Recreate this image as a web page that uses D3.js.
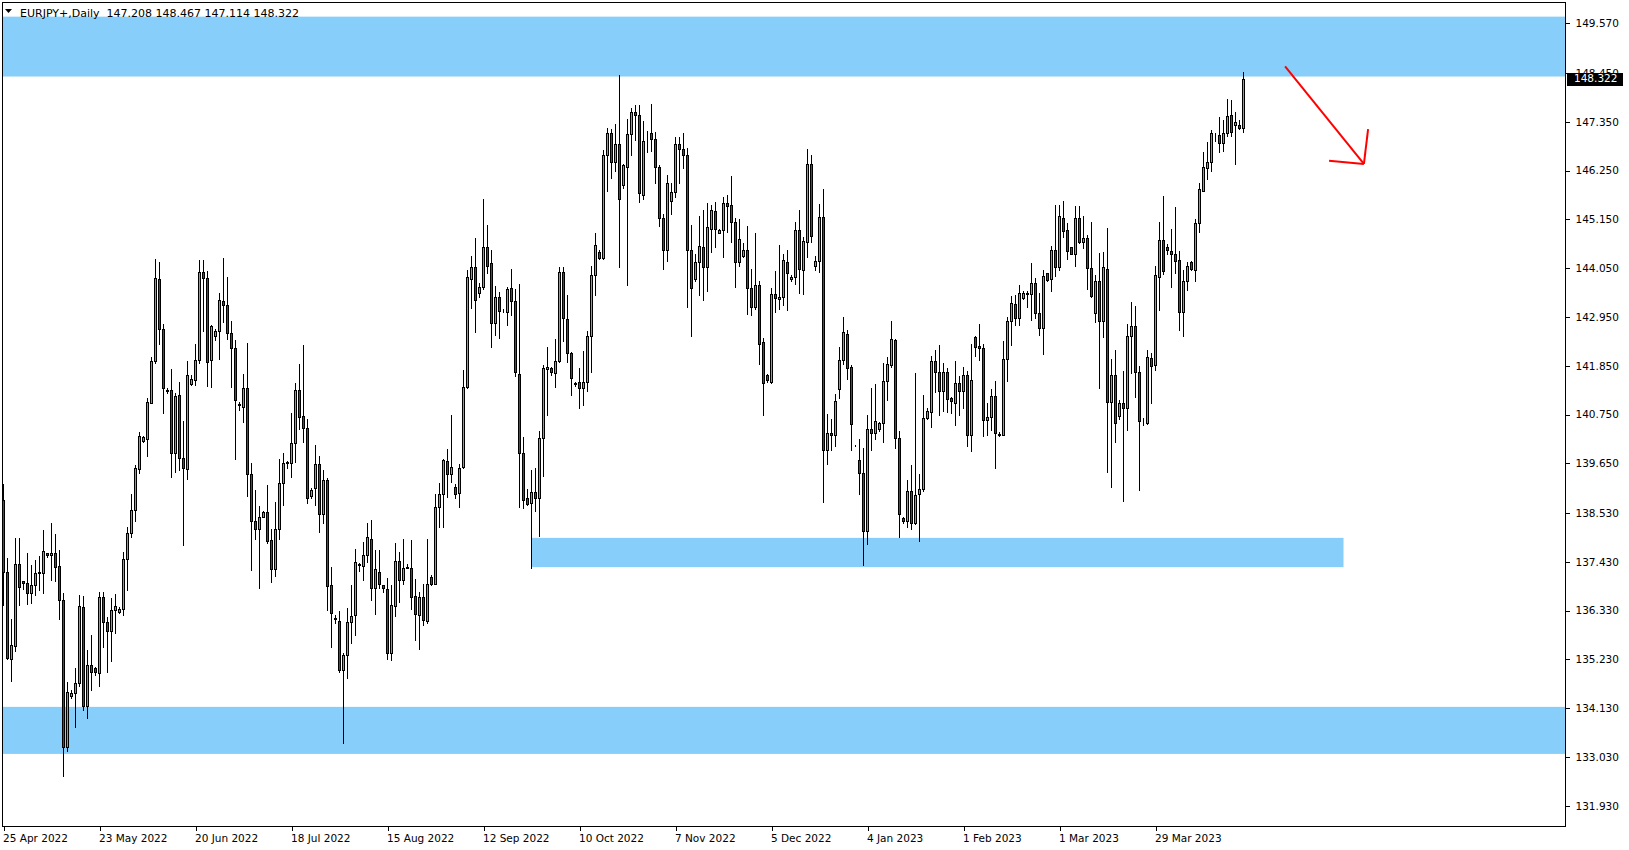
<!DOCTYPE html>
<html><head><meta charset="utf-8">
<script src="https://cdnjs.cloudflare.com/ajax/libs/d3/7.8.5/d3.min.js"></script>
<style>html,body{margin:0;padding:0;background:#fff;overflow:hidden}</style>
</head><body><svg id="chart" width="1629" height="850"></svg>
<script>
// ---- data: daily OHLC EURJPY+, index 0 = 25 Apr 2022 (broker with Sunday bars) ----
const opens = [138.82,137.19,135.25,135.54,137.37,136.99,136.95,136.72,136.90,137.17,137.17,137.62,137.58,137.62,137.33,136.58,133.25,134.41,134.47,134.69,136.41,134.19,135.10,135.04,134.92,136.63,136.08,135.86,136.34,136.31,136.37,137.49,138.09,138.59,139.52,140.16,140.21,141.01,141.95,143.80,142.67,141.30,141.30,139.88,141.18,139.76,139.52,141.43,141.53,141.97,143.96,143.82,141.97,142.52,142.63,143.31,143.22,142.58,142.24,140.99,140.93,141.34,139.40,138.35,138.16,138.45,138.55,137.92,137.26,138.16,139.20,139.65,139.65,140.10,141.30,140.72,140.44,138.92,139.09,139.64,138.50,139.27,136.91,136.16,136.10,134.99,135.33,136.07,136.22,137.36,137.34,137.58,137.94,136.83,137.19,136.91,136.82,135.38,136.44,137.45,137.03,137.30,137.30,136.66,136.22,136.63,136.10,137.08,136.94,138.66,138.96,139.70,139.40,139.12,138.99,139.56,141.36,143.80,144.07,143.50,143.63,144.52,144.16,142.82,143.41,143.09,143.07,143.60,143.30,141.66,139.89,138.88,138.75,139.01,138.88,140.23,141.78,141.79,141.68,141.96,143.96,142.91,142.13,141.45,141.48,141.34,141.48,142.52,143.90,144.42,144.27,146.60,147.09,146.44,146.84,145.93,146.32,147.07,147.56,147.51,145.71,147.08,147.09,146.97,146.33,145.17,144.47,145.57,145.76,146.84,146.73,146.60,144.45,143.80,144.18,144.52,144.07,144.94,145.33,144.85,144.91,145.51,145.47,145.10,144.18,144.33,144.47,143.61,143.18,143.68,142.38,141.64,141.49,143.46,143.35,143.39,144.20,143.80,143.85,144.91,144.01,144.63,146.40,144.11,144.21,145.20,139.95,140.33,140.28,141.32,141.97,142.57,141.82,140.06,139.73,139.43,138.13,140.42,140.34,140.42,140.55,141.50,141.87,142.43,140.22,138.42,138.34,139.02,138.30,138.96,139.07,140.68,140.80,141.96,141.71,141.29,141.71,141.12,141.02,141.46,141.27,141.65,140.29,142.50,142.30,142.25,140.62,140.69,141.17,140.32,140.29,142.00,142.86,143.24,142.93,143.37,143.46,143.46,143.71,143.05,142.69,143.93,143.80,144.46,144.08,145.19,144.91,144.52,144.37,145.19,144.65,144.72,144.06,143.05,143.76,142.86,144.04,141.04,141.64,140.72,141.02,140.89,142.52,142.75,141.71,140.56,140.56,142.02,141.86,143.86,144.69,144.52,144.44,144.37,144.24,143.07,143.77,144.20,144.00,145.07,145.80,146.31,146.44,147.04,147.06,146.87,147.09,147.50,147.27,147.27,147.208];
const highs = [139.18,137.51,136.14,137.96,137.96,137.00,137.62,137.36,137.47,137.56,138.15,137.62,138.30,138.05,137.70,136.72,134.71,134.54,135.03,136.68,136.66,135.44,135.78,135.07,136.76,136.76,136.19,136.61,136.70,136.42,137.66,138.22,138.97,139.61,140.36,140.27,141.12,142.05,144.25,144.19,142.79,141.34,141.78,141.24,141.49,140.61,141.96,141.64,142.34,144.23,144.23,143.99,142.77,142.67,143.50,144.28,143.86,142.86,142.43,141.04,141.67,142.36,139.65,139.05,138.69,138.58,139.16,138.16,138.77,139.75,139.89,139.70,140.78,141.45,141.90,142.32,140.66,139.09,140.06,139.82,139.50,139.33,137.31,136.23,136.32,135.37,136.40,136.91,137.73,137.41,137.88,138.31,138.37,137.70,137.70,136.91,137.06,136.91,137.86,137.66,137.94,137.38,137.92,137.04,136.76,136.94,137.94,137.13,138.96,139.20,139.75,139.97,140.74,139.18,139.63,141.75,144.01,144.32,144.72,143.72,145.62,145.02,144.47,143.65,143.52,143.14,143.63,144.03,143.58,143.69,140.25,139.07,139.50,139.54,140.38,141.87,142.27,141.83,142.45,144.08,144.08,143.45,142.17,141.49,141.81,142.18,142.63,144.10,144.84,144.46,146.71,147.22,147.19,147.29,148.40,146.39,147.41,147.67,147.72,147.72,147.36,147.14,147.75,147.11,146.37,145.27,146.15,145.98,147.01,147.01,147.10,146.75,145.02,144.36,145.23,145.36,145.51,145.47,145.55,144.94,145.66,145.71,146.13,145.19,145.16,144.61,145.00,144.04,144.85,143.77,142.47,141.67,143.60,143.99,144.57,144.36,144.46,143.90,145.08,145.35,144.75,146.74,146.60,144.33,145.50,145.84,140.76,140.65,141.22,142.28,142.96,142.66,141.87,140.07,140.20,139.99,140.74,141.34,141.44,140.59,141.92,142.04,142.86,142.46,140.38,138.44,139.28,139.62,141.68,139.41,141.20,140.89,142.07,142.21,142.31,141.91,141.80,141.14,141.96,141.61,141.82,141.74,142.34,142.51,142.79,142.34,141.01,141.32,141.50,140.35,142.40,142.94,143.42,143.44,143.67,143.53,143.53,144.16,143.82,143.50,144.01,143.95,144.55,145.47,145.47,145.56,145.06,144.53,145.45,145.45,145.22,144.80,145.08,143.89,144.40,144.42,144.96,142.00,142.20,141.08,141.73,142.79,143.29,143.20,141.84,140.67,142.21,142.14,144.11,145.10,145.68,144.60,144.94,145.43,144.44,144.01,144.20,144.22,145.16,145.97,146.67,146.89,147.17,147.09,147.46,147.39,147.87,147.85,147.57,147.39,148.467];
const lows = [136.46,135.23,134.75,135.41,136.46,136.81,136.49,136.51,136.68,136.80,136.72,137.55,137.02,137.00,136.14,132.61,133.17,134.35,133.71,134.62,134.09,133.90,134.54,134.88,134.62,135.52,134.95,135.20,135.82,136.27,136.23,136.80,138.00,138.36,139.44,140.14,139.82,141.00,141.91,142.33,140.78,141.23,139.35,139.46,139.49,137.80,139.29,141.42,141.42,141.92,142.64,141.40,141.38,142.43,142.00,142.84,142.46,141.36,139.75,140.85,140.59,138.91,137.25,137.95,136.83,138.43,137.86,136.98,137.10,137.94,138.71,139.55,139.35,139.67,140.42,140.12,138.76,138.86,138.70,138.11,138.31,136.34,135.52,136.04,134.95,133.35,134.80,135.61,135.77,137.23,137.02,137.43,136.57,136.25,136.83,136.76,135.25,135.22,136.21,136.53,136.92,137.28,136.36,135.67,135.46,136.01,136.06,136.91,136.93,138.22,138.22,138.90,139.24,138.86,138.66,139.54,141.34,143.16,142.62,143.41,143.58,143.95,142.28,142.54,142.48,143.06,142.77,143.00,141.63,138.66,138.64,138.71,137.30,138.58,138.02,139.37,140.73,141.64,141.36,141.94,142.41,141.93,141.18,141.40,140.89,140.97,141.28,141.72,143.45,144.26,144.26,145.78,146.08,146.23,144.08,145.85,143.67,146.60,146.95,145.55,145.61,146.67,146.69,145.96,145.00,144.02,144.22,145.28,145.66,145.97,146.31,143.18,142.53,143.76,143.44,143.34,143.54,144.42,144.53,144.84,144.31,144.87,144.63,143.63,144.10,144.31,143.01,142.99,143.14,141.88,140.74,141.49,141.47,143.07,143.13,143.22,143.11,143.75,143.70,143.50,143.46,144.30,144.63,144.01,143.97,138.77,139.63,139.94,140.04,141.12,141.89,141.55,139.95,140.05,138.96,137.35,137.83,139.94,140.20,140.39,140.14,141.07,141.83,139.99,137.98,138.30,138.21,138.17,138.28,137.89,139.02,140.65,140.46,141.26,140.73,140.83,140.80,140.78,140.52,140.73,140.89,140.05,139.92,142.06,141.97,140.26,140.28,140.41,139.54,140.27,140.28,141.50,142.32,142.77,142.77,143.35,143.18,142.88,142.92,142.54,142.11,143.77,143.54,143.87,144.01,144.76,144.25,144.36,144.10,144.62,144.50,143.59,143.41,142.84,141.34,142.50,139.46,139.11,140.14,140.65,138.79,140.40,141.69,141.14,139.04,140.52,140.54,141.02,141.76,143.11,143.92,144.37,143.62,143.95,142.66,142.53,143.56,144.01,143.77,144.86,145.78,146.07,146.23,146.91,146.66,146.70,147.04,147.02,146.40,147.19,147.114];
const closes = [137.21,135.27,135.56,137.37,136.86,136.95,136.72,136.90,137.17,137.20,137.67,137.58,137.62,137.31,136.58,133.25,134.49,134.47,134.69,136.43,134.17,135.10,134.94,134.95,136.63,136.08,135.86,136.34,136.43,136.37,137.49,138.07,138.59,139.54,140.27,140.24,141.03,141.95,143.82,142.67,141.34,141.27,139.88,141.17,139.76,139.55,141.64,141.55,141.98,143.96,143.82,141.94,142.74,142.63,143.33,143.21,142.58,142.24,141.07,140.97,141.34,139.40,138.36,138.16,138.45,138.55,137.91,137.26,138.16,139.20,139.65,139.67,140.10,141.30,140.69,140.44,138.86,139.05,139.64,138.50,139.27,136.89,136.27,136.15,134.99,135.33,136.07,136.21,137.42,137.37,137.58,137.98,136.83,137.27,136.93,136.83,135.38,136.46,137.45,137.03,137.30,137.32,136.64,136.25,136.63,136.12,136.94,136.94,138.66,138.96,139.72,139.40,139.56,138.97,139.54,141.36,143.84,144.07,143.33,143.63,144.52,144.10,142.82,143.41,143.09,143.08,143.59,143.30,141.70,139.89,138.83,138.73,139.01,138.88,140.23,141.79,141.83,141.70,141.96,143.96,142.92,142.13,141.57,141.44,141.34,141.48,142.52,143.90,144.57,144.27,146.60,147.09,146.44,146.84,145.60,146.38,147.07,147.56,147.51,145.75,146.91,147.07,146.97,146.32,145.17,144.47,145.98,145.76,146.84,146.73,146.60,144.45,143.61,144.18,144.55,144.07,144.97,145.36,144.94,144.91,145.51,145.46,145.10,144.19,144.70,144.47,143.61,143.18,143.68,142.35,141.46,141.53,143.46,143.37,143.39,144.24,143.93,143.85,144.91,144.03,144.66,146.40,144.78,144.21,145.20,139.95,140.33,140.28,141.06,141.98,142.60,141.81,140.53,140.06,139.43,138.13,140.42,140.34,140.61,140.55,141.51,141.89,142.45,140.22,138.51,138.36,139.02,138.30,138.94,139.07,140.67,140.82,141.96,141.71,141.29,141.71,141.10,141.05,141.46,141.29,141.65,140.29,141.53,142.28,142.25,140.62,140.69,141.17,140.33,140.29,142.00,142.85,143.26,142.92,143.50,143.50,143.50,143.71,143.05,142.71,143.87,143.78,144.46,144.08,145.22,144.89,144.44,144.38,145.19,144.65,144.72,144.06,143.43,143.76,142.86,144.07,141.04,141.64,140.55,141.02,140.89,142.52,142.74,141.71,140.60,140.57,142.05,141.84,143.90,144.69,143.98,144.45,144.37,144.22,143.07,143.77,144.10,144.03,145.07,145.83,146.33,146.44,147.09,147.03,146.88,147.09,147.48,147.13,147.34,147.22,148.322];

const dateLabels = ["25 Apr 2022","23 May 2022","20 Jun 2022","18 Jul 2022","15 Aug 2022","12 Sep 2022","10 Oct 2022","7 Nov 2022","5 Dec 2022","4 Jan 2023","1 Feb 2023","1 Mar 2023","29 Mar 2023"];
const dateLabelBars = [0,24,48,72,96,120,144,168,192,216,240,264,288];
const priceLabels = ["149.570","148.450","147.350","146.250","145.150","144.050","142.950","141.850","140.750","139.650","138.530","137.430","136.330","135.230","134.130","133.030","131.930"];

// zones: [fromBar, toBar, priceTop, priceBottom]
const zoneTop = [null, null, 149.72, 148.37];
const zoneMid = [132, 335, 137.97, 137.31];
const zoneBottom = [null, null, 134.16, 133.10];
// arrow annotation: [bar, price] start and end
const arrowFrom = [320.4, 148.60];
const arrowTo = [340.1, 146.40];

const titleText = "EURJPY+,Daily\u00a0\u00a0147.208 148.467 147.114 148.322";
const lastPrice = "148.322";

// ---- drawing ----
const W = 1629, H = 850;
const pL = 2, pR = 1565, pT = 2, pB = 826;
const svg = d3.select("#chart");
const n = Math.min(opens.length, highs.length, lows.length, closes.length);
const x = d3.scaleLinear().domain([0, 310]).range([3.5, 3.5 + 4 * 310]);
const y = d3.scaleLinear().domain([131.93, 149.57]).range([805.8, 23.3]);

svg.append("rect").attr("width", W).attr("height", H).attr("fill", "#fff");

const plot = svg.append("g");
plot.append("clipPath").attr("id", "clip").append("rect")
  .attr("x", pL + 0.5).attr("y", pT + 0.5).attr("width", pR - pL - 0.5).attr("height", pB - pT - 0.5);
const inner = plot.append("g").attr("clip-path", "url(#clip)");

function zone(z) {
  const x0 = z[0] == null ? pL : x(z[0]);
  const x1 = z[1] == null ? pR : x(z[1]);
  inner.append("rect").attr("x", x0).attr("width", x1 - x0)
    .attr("y", y(z[2])).attr("height", y(z[3]) - y(z[2]))
    .attr("fill", "#87cefa");
}
zone(zoneTop); zone(zoneMid); zone(zoneBottom);

const bars = d3.range(n);
const cg = inner.append("g").attr("shape-rendering", "crispEdges");
cg.selectAll("line.wick").data(bars).join("line")
  .attr("class", "wick")
  .attr("x1", i => x(i)).attr("x2", i => x(i))
  .attr("y1", i => Math.round(y(highs[i]))).attr("y2", i => Math.round(y(lows[i])) + 1)
  .attr("stroke", "#000").attr("stroke-width", 1);
cg.selectAll("rect.body").data(bars).join("rect")
  .attr("class", "body")
  .attr("x", i => x(i) - 1)
  .attr("width", 2)
  .attr("y", i => Math.round(y(Math.max(opens[i], closes[i]))) + 0.5)
  .attr("height", i => Math.max(0, Math.round(y(Math.min(opens[i], closes[i]))) - Math.round(y(Math.max(opens[i], closes[i])))))
  .attr("fill", i => closes[i] >= opens[i] ? "#00ff00" : "#ff0000")
  .attr("stroke", "#000").attr("stroke-width", 1);

// arrow
const ax0 = x(arrowFrom[0]), ay0 = y(arrowFrom[1]), ax1 = x(arrowTo[0]), ay1 = y(arrowTo[1]);
const ang = Math.atan2(ay1 - ay0, ax1 - ax0);
const hl = 35, ha = 0.80;
const ag = inner.append("g").attr("stroke", "#ff0000").attr("stroke-width", 2).attr("fill", "none");
ag.append("line").attr("x1", ax0).attr("y1", ay0).attr("x2", ax1).attr("y2", ay1);
ag.append("line").attr("x1", ax1).attr("y1", ay1)
  .attr("x2", ax1 - hl * Math.cos(ang - ha)).attr("y2", ay1 - hl * Math.sin(ang - ha));
ag.append("line").attr("x1", ax1).attr("y1", ay1)
  .attr("x2", ax1 - hl * Math.cos(ang + ha)).attr("y2", ay1 - hl * Math.sin(ang + ha));

// frame
svg.append("rect").attr("x", pL + 0.5).attr("y", pT + 0.5)
  .attr("width", pR - pL).attr("height", pB - pT)
  .attr("fill", "none").attr("stroke", "#000").attr("shape-rendering", "crispEdges");

// title
const tg = svg.append("g").attr("font-family", "DejaVu Sans, Verdana, sans-serif").attr("font-size", "11px").attr("fill", "#000");
tg.append("path").attr("d", "M5,9 L12,9 L8.5,13 Z").attr("fill", "#000");
tg.append("text").attr("x", 20).attr("y", 16.5).text(titleText);

// right axis
const yAxis = d3.axisRight(y)
  .tickValues(priceLabels.map(Number))
  .tickFormat((d, i) => priceLabels[i])
  .tickSize(4).tickPadding(6);
const ya = svg.append("g").attr("transform", `translate(${pR + 0.5},0)`).call(yAxis);
ya.select(".domain").remove();
ya.selectAll("text").attr("font-family", "DejaVu Sans, Verdana, sans-serif").attr("font-size", "10.5px").attr("fill", "#000");
ya.selectAll("line").attr("stroke", "#000").attr("shape-rendering", "crispEdges");

// last price box
const ly = y(+lastPrice);
svg.append("rect").attr("x", pR + 2).attr("y", Math.round(ly) - 6).attr("width", 56).attr("height", 13).attr("fill", "#000");
svg.append("text").attr("x", pR + 9).attr("y", ly).attr("dy", "0.36em")
  .attr("font-family", "DejaVu Sans, Verdana, sans-serif").attr("font-size", "10.5px").attr("fill", "#fff").text(lastPrice);

// bottom axis
const xAxis = d3.axisBottom(x)
  .tickValues(dateLabelBars)
  .tickFormat((d, i) => dateLabels[i])
  .tickSize(4).tickPadding(4);
const xa = svg.append("g").attr("transform", `translate(0,${pB + 0.5})`).call(xAxis);
xa.select(".domain").remove();
xa.selectAll("text").attr("text-anchor", "start").attr("dx", "-1")
  .attr("font-family", "DejaVu Sans, Verdana, sans-serif").attr("font-size", "10.5px").attr("fill", "#000");
xa.selectAll("line").attr("stroke", "#000").attr("shape-rendering", "crispEdges");
</script>
</body></html>
